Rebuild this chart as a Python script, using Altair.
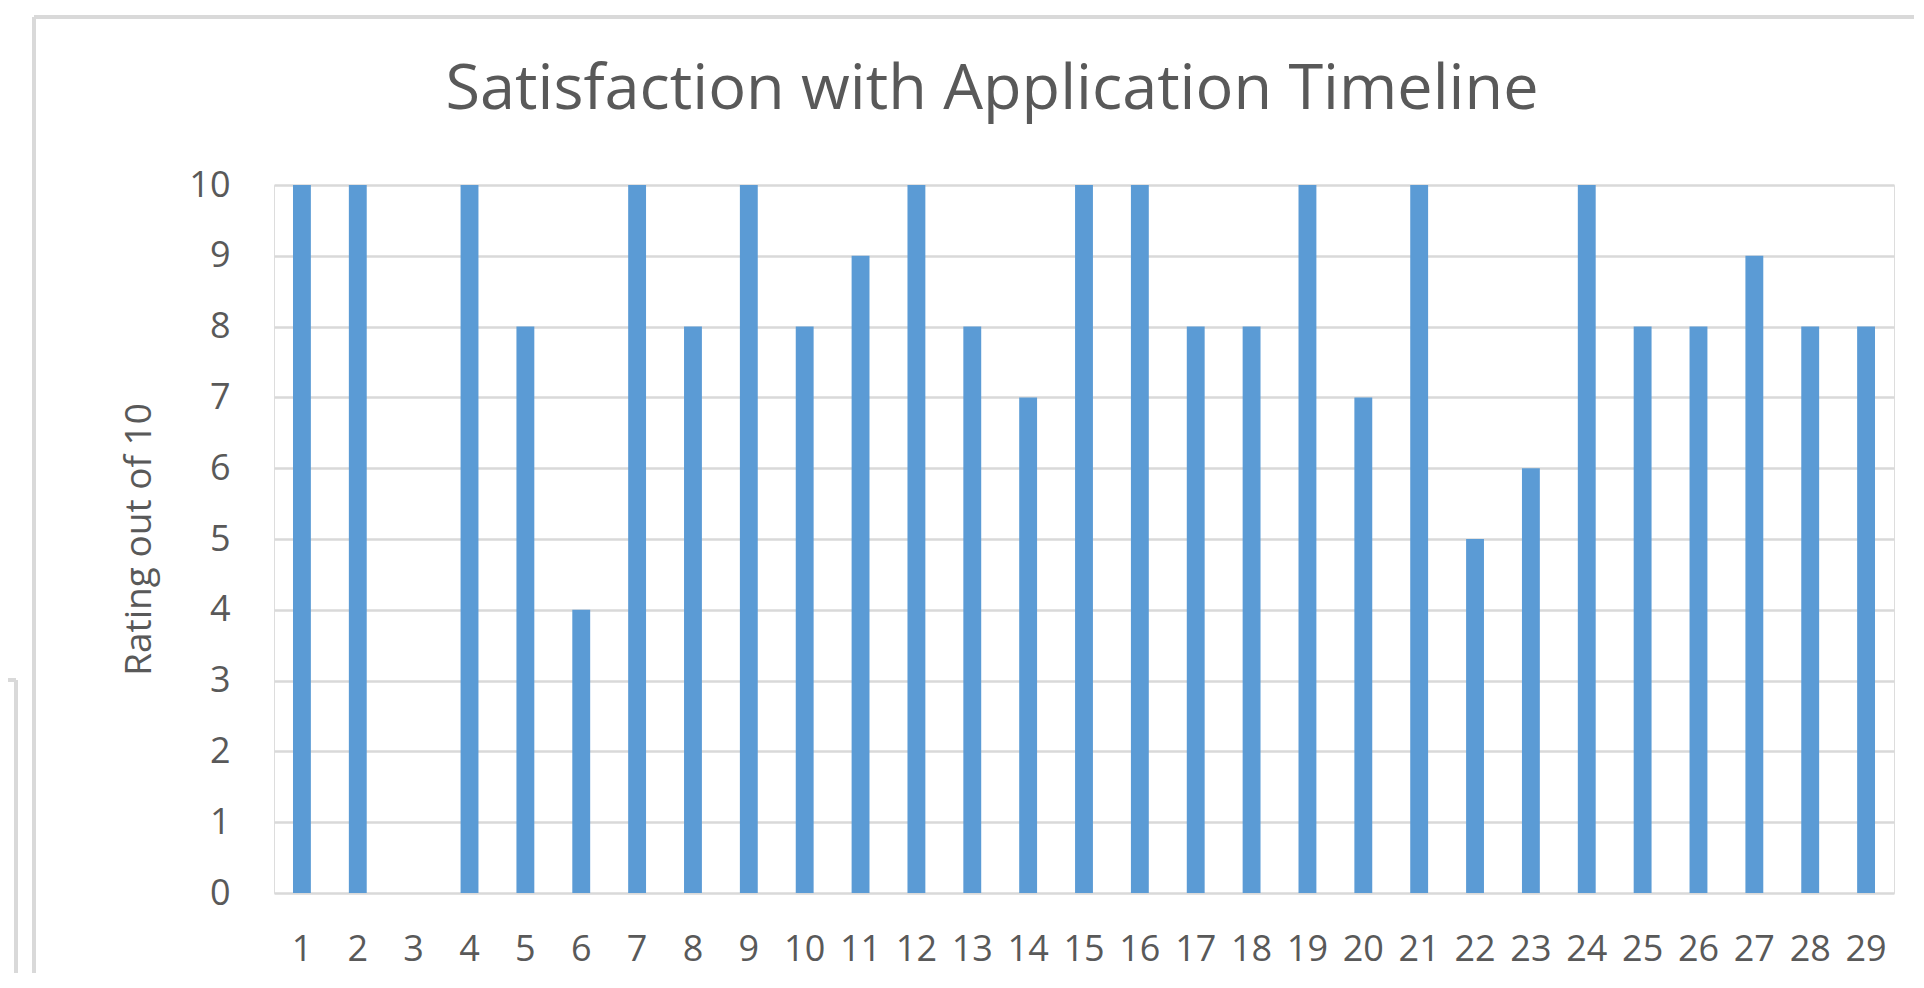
import altair as alt
import pandas as pd

# Respondent number (category) and rating out of 10
respondents = ["1", "2", "3", "4", "5", "6", "7", "8", "9", "10",
               "11", "12", "13", "14", "15", "16", "17", "18", "19", "20",
               "21", "22", "23", "24", "25", "26", "27", "28", "29"]
ratings = [10, 10, 0, 10, 8, 4, 10, 8, 10, 8,
           9, 10, 8, 7, 10, 10, 8, 8, 10, 7,
           10, 5, 6, 10, 8, 8, 9, 8, 8]
y_ticks = [0, 1, 2, 3, 4, 5, 6, 7, 8, 9, 10]

df = pd.DataFrame({"respondent": respondents, "rating": ratings})

FONT = "Open Sans"
TEXT = "#595959"
GRID = "#D9D9D9"

bars = alt.Chart(df).mark_bar(color="#5B9BD5").encode(
    x=alt.X(
        "respondent:N",
        sort=respondents,
        title=None,
        scale=alt.Scale(paddingInner=0.68, paddingOuter=0.34),
        axis=alt.Axis(
            labelAngle=0, labelFont=FONT, labelFontSize=36, labelColor=TEXT,
            ticks=False, tickSize=0, domain=False, grid=False, labelPadding=39,
        ),
    ),
    y=alt.Y(
        "rating:Q",
        scale=alt.Scale(domain=[0, 10], nice=False),
        axis=alt.Axis(
            values=y_ticks, title="Rating out of 10",
            titleFont=FONT, titleFontSize=37, titleFontWeight="normal", titleColor=TEXT,
            labelFont=FONT, labelFontSize=36, labelColor=TEXT,
            grid=True, gridColor=GRID, gridWidth=2.5,
            domain=False, ticks=False, tickSize=0, labelPadding=44, titlePadding=30,
        ),
    ),
)

frame_df = pd.DataFrame({"k": [0]})
frame_left = alt.Chart(frame_df).mark_rule(color=GRID, strokeWidth=4).encode(
    x=alt.value(-240), y=alt.value(-168), y2=alt.value(820)
)
frame_top = alt.Chart(frame_df).mark_rule(color=GRID, strokeWidth=4).encode(
    x=alt.value(-240), x2=alt.value(1660), y=alt.value(-168)
)
side_left = alt.Chart(frame_df).mark_rule(color=GRID, strokeWidth=4).encode(
    x=alt.value(-258), y=alt.value(495), y2=alt.value(820)
)
side_top = alt.Chart(frame_df).mark_rule(color=GRID, strokeWidth=4).encode(
    x=alt.value(-290), x2=alt.value(-258), y=alt.value(495)
)

chart = alt.layer(bars, frame_left, frame_top, side_left, side_top).properties(
    width=1620,
    height=708,
    padding={"left": 266, "top": 177, "right": 20, "bottom": 80},
    autosize=alt.AutoSizeParams(type="none"),
    title=alt.Title(
        "Satisfaction with Application Timeline",
        font=FONT, fontSize=63, fontWeight="normal", color=TEXT,
        anchor="middle", frame="group", dx=-92, offset=-157, baseline="alphabetic",
    ),
).configure_view(stroke=None).configure(background="white")

chart.save("out.html", embed_options={"renderer": "svg", "actions": False})
